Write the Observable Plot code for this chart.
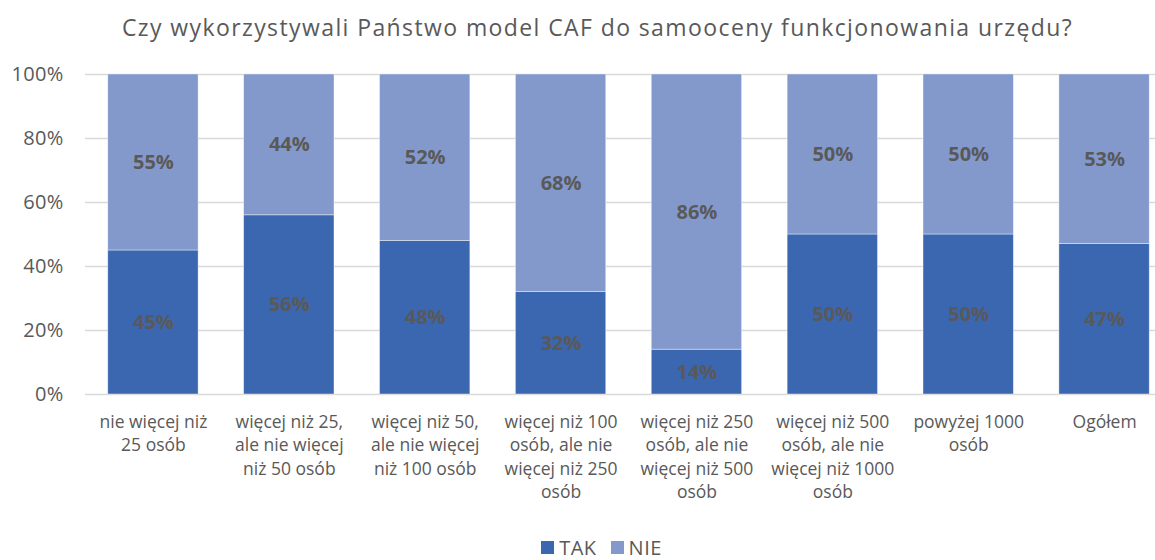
<!DOCTYPE html>
<html>
<head>
<meta charset="utf-8">
<script src="https://cdn.jsdelivr.net/npm/d3@7"></script>
<script src="https://cdn.jsdelivr.net/npm/@observablehq/plot@0.6"></script>
<style>
  body { margin: 0; background: #fff; font-family: "Open Sans", sans-serif; }
  #wrap { width: 1155px; height: 560px; position: relative; overflow: hidden; }
  #title { height: 50px; line-height: 54px; text-align: center; font-size: 23px; letter-spacing: 1.4px; color: #595959; padding-left: 40px; box-sizing: border-box; }
  #legend { position: absolute; left: 0; top: 534px; width: 1155px; padding-left: 48px; box-sizing: border-box; display: flex; justify-content: center; gap: 14px; font-size: 20px; letter-spacing: 0.5px; color: #595959; }
  #legend span.item { display: flex; align-items: center; gap: 5px; }
  #legend span.sw { display: inline-block; width: 13px; height: 13px; }
  #chart g[aria-label="y-axis tick label"] text { letter-spacing: 0.3px; }
</style>
</head>
<body>
<div id="wrap">
  <div id="title">Czy wykorzystywali Państwo model CAF do samooceny funkcjonowania urzędu?</div>
  <div id="chart"></div>
  <div id="legend"></div>
</div>
<script>
const categories = [
  "nie więcej niż 25 osób",
  "więcej niż 25, ale nie więcej niż 50 osób",
  "więcej niż 50, ale nie więcej niż 100 osób",
  "więcej niż 100 osób, ale nie więcej niż 250 osób",
  "więcej niż 250 osób, ale nie więcej niż 500 osób",
  "więcej niż 500 osób, ale nie więcej niż 1000 osób",
  "powyżej 1000 osób",
  "Ogółem"
];
const tickLabels = [
  "nie więcej niż\n25 osób",
  "więcej niż 25,\nale nie więcej\nniż 50 osób",
  "więcej niż 50,\nale nie więcej\nniż 100 osób",
  "więcej niż 100\nosób, ale nie\nwięcej niż 250\nosób",
  "więcej niż 250\nosób, ale nie\nwięcej niż 500\nosób",
  "więcej niż 500\nosób, ale nie\nwięcej niż 1000\nosób",
  "powyżej 1000\nosób",
  "Ogółem"
];
const series = ["TAK", "NIE"];
const tak = [45, 56, 48, 32, 14, 50, 50, 47];
const nie = [55, 44, 52, 68, 86, 50, 50, 53];
const colors = ["#3a67b0", "#8399cc"];
const yTicks = [0, 20, 40, 60, 80, 100];

const data = [];
categories.forEach((c, i) => data.push({cat: c, series: "TAK", value: tak[i]}));
categories.forEach((c, i) => data.push({cat: c, series: "NIE", value: nie[i]}));

const labelOf = new Map(categories.map((c, i) => [c, tickLabels[i]]));

const chart = Plot.plot({
  width: 1155,
  height: 470,
  marginTop: 24,
  marginBottom: 126,
  marginLeft: 85,
  marginRight: -17,
  style: { fontFamily: "'Open Sans', sans-serif", color: "#595959", background: "transparent" },
  x: { domain: categories, paddingInner: 0.335, paddingOuter: 0.1675, round: false },
  y: { domain: [0, 100] },
  color: { domain: series, range: colors },
  marks: [
    Plot.gridY(yTicks, { stroke: "#d9d9d9", strokeOpacity: 1, strokeWidth: 1.3 }),
    Plot.barY(data, { x: "cat", y: "value", fill: "series", order: series, stroke: "#ffffff", strokeOpacity: 0.5, strokeWidth: 0.8 }),
    Plot.text(data, Plot.stackY({ x: "cat", y: "value", z: "series", order: series, text: d => d.value + "%", fill: "#595959", fontSize: 20, fontWeight: "bold" })),
    Plot.axisY(yTicks, { tickSize: 0, tickPadding: 22, tickFormat: d => d + "%", fontSize: 20, fill: "#595959", label: null }),
    Plot.axisX({ tickSize: 0, tickPadding: 17, tickFormat: d => labelOf.get(d), fontSize: 17.5, lineHeight: 1.33, fill: "#595959", label: null })
  ]
});
document.getElementById("chart").appendChild(chart);

const legend = document.getElementById("legend");
series.forEach((s, i) => {
  const item = document.createElement("span");
  item.className = "item";
  const sw = document.createElement("span");
  sw.className = "sw";
  sw.style.background = colors[i];
  item.appendChild(sw);
  item.appendChild(document.createTextNode(s));
  legend.appendChild(item);
});
</script>
</body>
</html>
